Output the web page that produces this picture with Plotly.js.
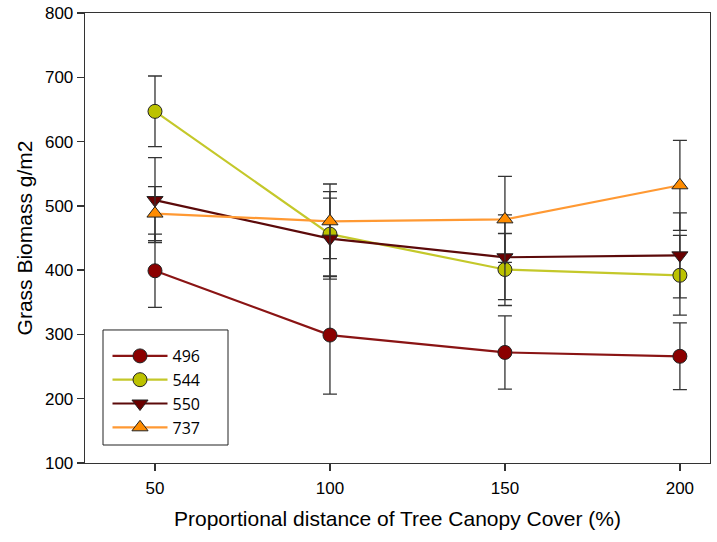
<!DOCTYPE html>
<html>
<head>
<meta charset="utf-8">
<script src="https://cdn.plot.ly/plotly-3.0.1.min.js"></script>
<style>html,body{margin:0;padding:0;background:#fff;}#chart{width:717px;height:542px;}</style>
</head>
<body>
<div id="chart"></div>
<script>
const distance = [50, 100, 150, 200];
const names = ["496", "544", "550", "737"];
const biomass496 = [399, 299, 272, 266];
const err496 = [57, 92, 57, 52];
const biomass544 = [647, 456, 401, 392];
const err544 = [55, 66, 56, 62];
const biomass550 = [509, 449, 420, 423];
const err550 = [66, 63, 66, 66];
const biomass737 = [488, 476, 479, 532];
const err737 = [42, 58, 67, 70];
const xTicks = [50, 100, 150, 200];
const yTicks = [100, 200, 300, 400, 500, 600, 700, 800];

const styles = [
  {line: "#8a1414", marker: "#8b0000", symbol: "circle"},
  {line: "#c4c82a", marker: "#bcc200", symbol: "circle"},
  {line: "#5c0a0a", marker: "#6a0000", symbol: "triangle-down"},
  {line: "#ff9933", marker: "#ff8c00", symbol: "triangle-up"}
];
const series = [biomass496, biomass544, biomass550, biomass737];
const errs = [err496, err544, err550, err737];

const traces = series.map((y, i) => ({
  x: distance, y: y, name: names[i], type: "scatter", mode: "lines+markers",
  line: {color: styles[i].line, width: 2.2},
  marker: {color: styles[i].marker, symbol: styles[i].symbol, size: 14,
           line: {color: "#222", width: 1}},
  error_y: {type: "data", array: errs[i], visible: true, color: "#333",
            thickness: 1.3, width: 7}
}));

const axisFont = {family: "Liberation Sans, Arial, sans-serif", size: 17, color: "#000"};
const titleFont = {family: "Liberation Sans, Arial, sans-serif", size: 21, color: "#000"};
const layout = {
  width: 717, height: 542,
  margin: {l: 85, r: 7, t: 13, b: 79},
  paper_bgcolor: "#fff", plot_bgcolor: "#fff",
  showlegend: true,
  xaxis: {
    range: [30, 208.6], tickvals: xTicks, ticktext: xTicks.map(String),
    showgrid: false, zeroline: false, showline: true, mirror: true,
    linecolor: "#333", linewidth: 1.3, ticks: "outside", ticklen: 7,
    tickcolor: "#333", tickwidth: 1.3, tickfont: axisFont, ticklabelstandoff: 2,
    automargin: false,
    title: {text: "Proportional distance of Tree Canopy Cover (%)", font: titleFont, standoff: 14}
  },
  yaxis: {
    range: [100, 800], tickvals: yTicks, ticktext: yTicks.map(String),
    showgrid: false, zeroline: false, showline: true, mirror: true,
    linecolor: "#333", linewidth: 1.3, ticks: "outside", ticklen: 7,
    tickcolor: "#333", tickwidth: 1.3, tickfont: axisFont,
    automargin: false,
    title: {text: "Grass Biomass g/m2", font: titleFont, standoff: 6}
  },
  shapes: [{
    type: "rect", xref: "paper", yref: "paper",
    x0: 0.0288, x1: 0.2288, y0: 0.04, y1: 0.2956,
    line: {color: "#222", width: 1}, fillcolor: "#fff", layer: "above"
  }],
  legend: {
    x: 0.036, y: 0.04, xanchor: "left", yanchor: "bottom",
    borderwidth: 0, bgcolor: "rgba(0,0,0,0)",
    font: {family: "Open Sans, Noto Sans, sans-serif", size: 16, color: "#000"},
    itemwidth: 55, tracegroupgap: 0
  }
};

Plotly.newPlot("chart", traces, layout, {displayModeBar: false, staticPlot: true});
</script>
</body>
</html>
